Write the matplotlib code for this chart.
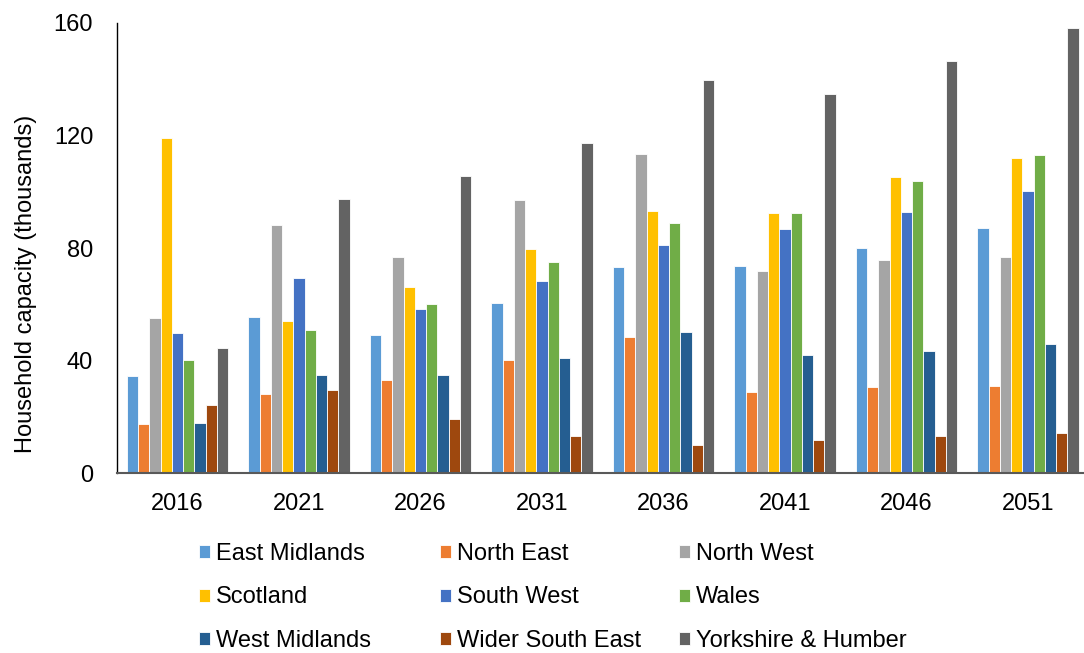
import matplotlib
matplotlib.use('Agg')
import matplotlib.pyplot as plt
import numpy as np

plt.rcParams['font.family'] = ['Liberation Sans', 'DejaVu Sans']

years = ['2016', '2021', '2026', '2031', '2036', '2041', '2046', '2051']

# Household capacity (thousands)
east_midlands   = [34.6, 55.6, 49.2, 60.5, 73.3, 73.8, 80.1, 87.1]
north_east      = [17.5, 28.2, 33.3, 40.2, 48.4, 28.8, 30.6, 31.1]
north_west      = [55.1, 88.2, 77.0, 97.0, 113.3, 71.9, 75.7, 77.0]
scotland        = [119.3, 54.2, 66.1, 79.7, 93.3, 92.4, 105.2, 112.0]
south_west      = [49.8, 69.3, 58.3, 68.4, 81.0, 86.9, 92.9, 100.2]
wales           = [40.2, 51.1, 60.1, 75.1, 88.8, 92.4, 103.9, 113.0]
west_midlands   = [17.8, 35.1, 35.1, 40.9, 50.1, 42.0, 43.4, 46.1]
wider_south_east = [24.2, 29.7, 19.2, 13.3, 10.1, 11.9, 13.3, 14.3]
yorkshire       = [44.7, 97.4, 105.5, 117.4, 139.6, 134.7, 146.5, 158.3]

regions = ['East Midlands', 'North East', 'North West', 'Scotland', 'South West',
           'Wales', 'West Midlands', 'Wider South East', 'Yorkshire & Humber']
series = [east_midlands, north_east, north_west, scotland, south_west,
          wales, west_midlands, wider_south_east, yorkshire]
colours = ['#5B9BD5', '#ED7D31', '#A5A5A5', '#FFC000', '#4472C4',
           '#70AD47', '#255E91', '#9E480E', '#636363']

fig = plt.figure(figsize=(10.84, 6.53), dpi=100)
ax = fig.add_axes([0.1077, 0.2749, 0.8967, 0.6899])

x = np.arange(len(years))
w = 0.0924
bars = []
for i, (vals, col, name) in enumerate(zip(series, colours, regions)):
    b = ax.bar(x + (i - 4) * w, vals, w, color=col, edgecolor='white',
               linewidth=0.6, label=name)
    bars.append(b)

ax.set_xlim(-0.5, 7.5)
ax.set_ylim(0, 160)
ax.set_yticks([0, 40, 80, 120, 160])
ax.set_xticks(x)
ax.set_xticklabels(years)
ax.tick_params(axis='both', length=0, labelsize=17, colors='#000000')
ax.tick_params(axis='y', pad=17)
ax.tick_params(axis='x', pad=14)

for s in ['top', 'right']:
    ax.spines[s].set_visible(False)
ax.spines['left'].set_color('#000000')
ax.spines['left'].set_linewidth(1.0)
ax.spines['bottom'].set_color('#595959')
ax.spines['bottom'].set_linewidth(1.5)

ax.set_ylabel('Household capacity (thousands)', fontsize=17)
ax.yaxis.set_label_coords(-0.082, 0.42)

# legend, three columns laid out row by row
col_x = [199, 440, 679]
for c in range(3):
    hs = [bars[c + 3 * r] for r in range(3)]
    ls = [regions[c + 3 * r] for r in range(3)]
    fig.legend(hs, ls, loc='upper left',
               bbox_to_anchor=(col_x[c] / 1084, 1 - 543 / 653),
               frameon=False, fontsize=17, borderpad=0, borderaxespad=0,
               handlelength=0.48, handleheight=0.48, handletextpad=0.25,
               labelspacing=0.91)

fig.savefig('out.png', dpi=100)
